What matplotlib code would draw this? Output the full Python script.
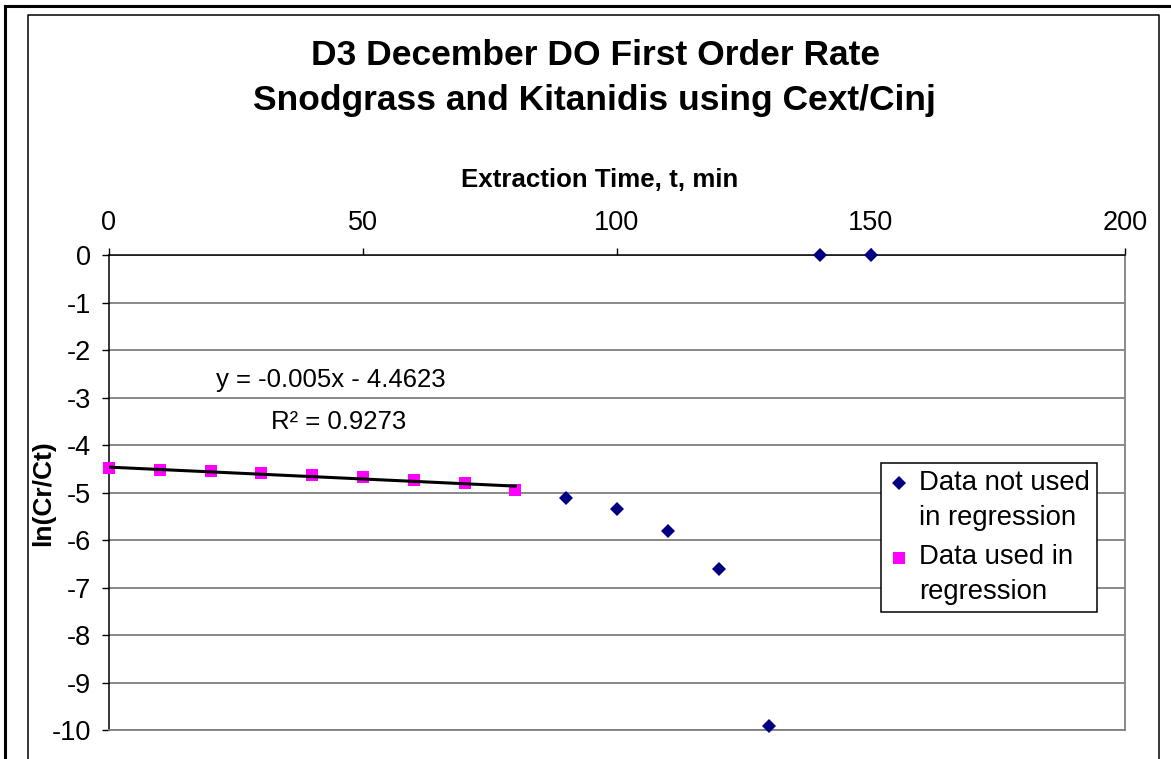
import matplotlib
matplotlib.use("Agg")
import matplotlib.pyplot as plt
from matplotlib.lines import Line2D
from matplotlib.legend_handler import HandlerLine2D
import numpy as np

# Extraction times (min) and ln(Cr/Ct) values
t_unused = [90, 100, 110, 120, 130, 140, 150]
ln_unused = [-5.12, -5.34, -5.80, -6.61, -9.92, 0.0, 0.0]
t_used = [0, 10, 20, 30, 40, 50, 60, 70, 80]
ln_used = [-4.49, -4.53, -4.54, -4.59, -4.62, -4.66, -4.73, -4.80, -4.94]

# Linear trendline fitted over the regression points
slope = -0.005
intercept = -4.4623
r_squared = 0.9273

x_ticks = [0, 50, 100, 150, 200]
y_ticks = list(range(-10, 1))

title_lines = ["D3 December DO First Order Rate",
               "Snodgrass and Kitanidis using Cext/Cinj"]

plt.rcParams['font.family'] = ['Liberation Sans', 'DejaVu Sans']
plt.rcParams['axes.unicode_minus'] = False

W, H = 1171, 759
fig = plt.figure(figsize=(W / 100, H / 100), dpi=100)
fig.patch.set_facecolor('white')


def fx(px):
    return px / W


def fy(py):
    return 1 - py / H


class FirstLineHandler(HandlerLine2D):
    """Places the legend marker beside the first line of a two-line label."""

    def __init__(self, shift, **kw):
        super().__init__(**kw)
        self.shift = shift

    def create_artists(self, legend, orig_handle, xdescent, ydescent,
                       width, height, fontsize, trans):
        artists = super().create_artists(legend, orig_handle, xdescent, ydescent,
                                         width, height, fontsize, trans)
        for a in artists:
            a.set_ydata(np.asarray(a.get_ydata()) + self.shift)
        return artists


ax = fig.add_axes([fx(109), fy(730), fx(1125) - fx(109), fy(255.3) - fy(730)])

# Outer frame and chart-area frame
fig.add_artist(Line2D([fx(5), fx(5)], [fy(6), fy(800)], color='black', lw=2.2,
                      transform=fig.transFigure))
fig.add_artist(Line2D([fx(5), fx(1200)], [fy(6), fy(6)], color='black', lw=2.2,
                      transform=fig.transFigure))
fig.add_artist(Line2D([fx(28), fx(28), fx(1159), fx(1159)],
                      [fy(800), fy(15), fy(15), fy(800)], color='black', lw=1.1,
                      transform=fig.transFigure))

ax.set_xlim(0, 200)
ax.set_ylim(-10, 0)

# Grid
ax.set_yticks(y_ticks)
ax.set_xticks(x_ticks)
ax.yaxis.grid(True, color='#808080', lw=1.3)
ax.set_axisbelow(True)

# Axes: x axis along top (y = 0), y axis on left
ax.xaxis.tick_top()
ax.xaxis.set_label_position('top')
for side in ['top', 'left']:
    ax.spines[side].set_color('black')
    ax.spines[side].set_linewidth(1.1)
for side in ['right', 'bottom']:
    ax.spines[side].set_color('#808080')
    ax.spines[side].set_linewidth(1.3)
ax.tick_params(axis='x', direction='out', length=5, width=1, color='black',
               labelsize=19.5, pad=9)
ax.tick_params(axis='y', direction='out', length=5, width=1, color='black',
               labelsize=19.5, pad=8)

# Series
h_unused, = ax.plot(t_unused, ln_unused, linestyle='none', marker='D', markersize=6.8,
                    color='#000080', markeredgewidth=0,
                    label='Data not used\nin regression', zorder=4, clip_on=False)
h_used, = ax.plot(t_used, ln_used, linestyle='none', marker='s', markersize=9,
                  color='#FF00FF', markeredgewidth=0,
                  label='Data used in\nregression', zorder=3, clip_on=False)

# Trendline
tx = np.array([t_used[0], t_used[-1]])
ax.plot(tx, slope * tx + intercept, color='black', lw=2.2, zorder=5)

ax.text(43.7, -2.77, f"y = {slope:g}x - {abs(intercept):.4f}", fontsize=18.5,
        ha='center', va='baseline')
ax.text(45.3, -3.66, f"R\u00b2 = {r_squared:.4f}", fontsize=18.5,
        ha='center', va='baseline')

# Labels and title
ax.set_xlabel("Extraction Time, t, min", fontsize=18.6, fontweight='bold')
ax.xaxis.set_label_coords((600 - 109) / 1016, (730 - 187) / 474.7)
ax.xaxis.label.set_va('baseline')
ax.set_ylabel("ln(Cr/Ct)", fontsize=19, fontweight='bold')
ax.yaxis.set_label_coords((55 - 109) / 1016, 0.5)

fig.text(fx(596), fy(65), title_lines[0], fontsize=25.5, fontweight='bold',
         ha='center', va='baseline')
fig.text(fx(594), fy(110), title_lines[1], fontsize=25.5, fontweight='bold',
         ha='center', va='baseline')

shift = 12.3
leg = ax.legend(handles=[h_unused, h_used],
                handler_map={h_unused: FirstLineHandler(shift),
                             h_used: FirstLineHandler(shift)},
                loc='upper left',
                bbox_to_anchor=((880.7 - 109) / 1016, (730 - 462.7) / 474.7),
                borderaxespad=0, fontsize=19.8, frameon=True, fancybox=False,
                edgecolor='black', framealpha=1, borderpad=0.25, handlelength=0.85,
                handletextpad=0.3, labelspacing=0.5)
leg.get_frame().set_linewidth(1.1)
for t in leg.get_texts():
    t.set_linespacing(1.45)

fig.savefig('out.png', dpi=100, facecolor='white')
